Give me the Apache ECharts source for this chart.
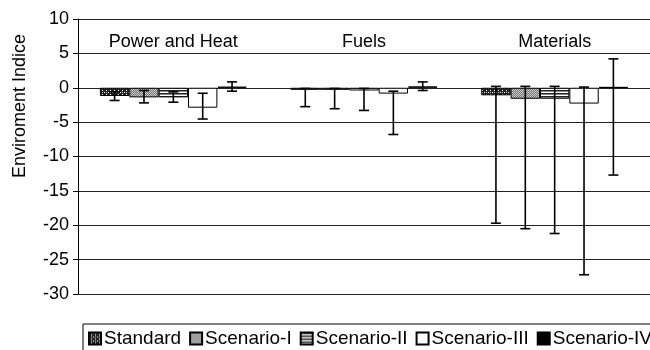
<!DOCTYPE html>
<html>
<head>
<meta charset="utf-8">
<script src="https://cdn.jsdelivr.net/npm/echarts@6/dist/echarts.min.js"></script>
<style>html,body{margin:0;padding:0;background:#fff}#c{width:650px;height:350px}</style>
</head>
<body>
<div id="c"></div>
<script>
// ---- data ----
const categories = ['Power and Heat', 'Fuels', 'Materials'];
const seriesNames = ['Standard', 'Scenario-I', 'Scenario-II', 'Scenario-III', 'Scenario-IV'];
const standardVals = [-1.2, -0.3, -1.1];
const scen1Vals = [-1.4, -0.3, -1.6];
const scen2Vals = [-1.4, -0.4, -1.6];
const scen3Vals = [-2.9, -0.85, -2.3];
const scen4Vals = [0.15, 0.2, 0.1];
const standardLow = [-1.85, -2.75, -19.7];
const standardHigh = [-0.6, -0.1, 0.2];
const scen1Low = [-2.2, -3.05, -20.5];
const scen1High = [-0.4, -0.1, 0.2];
const scen2Low = [-2.1, -3.3, -21.2];
const scen2High = [-0.6, -0.1, 0.2];
const scen3Low = [-4.55, -6.8, -27.2];
const scen3High = [-0.8, -0.5, 0.1];
const scen4Low = [-0.5, -0.4, -12.7];
const scen4High = [0.85, 0.85, 4.2];
const yTicks = [-30, -25, -20, -15, -10, -5, 0, 5, 10];
const yTitle = 'Enviroment Indice';

const values = [standardVals, scen1Vals, scen2Vals, scen3Vals, scen4Vals];
const lows = [standardLow, scen1Low, scen2Low, scen3Low, scen4Low];
const highs = [standardHigh, scen1High, scen2High, scen3High, scen4High];

// ---- patterns ----
function pat(w, h, draw) {
  const c = document.createElement('canvas');
  c.width = w; c.height = h;
  const g = c.getContext('2d');
  draw(g);
  return { image: c, repeat: 'repeat' };
}
const fills = [
  pat(4, 4, g => { g.fillStyle = '#222'; g.fillRect(0,0,4,4); g.fillStyle = '#fff'; g.fillRect(0,0,1,1); g.fillRect(2,2,1,1); g.fillStyle='#bbb'; g.fillRect(2,0,1,1); }),
  pat(2, 2, g => { g.fillStyle = '#777'; g.fillRect(0,0,2,2); g.fillStyle = '#c8c8c8'; g.fillRect(0,0,1,1); g.fillRect(1,1,1,1); }),
  pat(3, 3, g => { g.fillStyle = '#fff'; g.fillRect(0,0,3,3); g.fillStyle = '#222'; g.fillRect(0,0,3,1); g.fillStyle = '#888'; g.fillRect(0,1,3,1); }),
  '#ffffff',
  '#000000'
];

const GAP = 0.23;
const FONT = 'Liberation Sans, Arial, sans-serif';
const series = seriesNames.map((name, i) => ({
  name: name,
  type: 'bar',
  data: values[i],
  barGap: '0%',
  barCategoryGap: (GAP * 100) + '%',
  itemStyle: { color: fills[i], borderColor: '#000', borderWidth: 1 },
  z: 2
}));

const errData = [];
for (let s = 0; s < 5; s++) {
  for (let c = 0; c < categories.length; c++) {
    errData.push([c, lows[s][c], highs[s][c], s]);
  }
}
series.push({
  type: 'custom',
  name: 'err',
  data: errData,
  z: 5,
  encode: { x: 0, y: [1, 2] },
  renderItem: function (params, api) {
    const c = api.value(0), lo = api.value(1), hi = api.value(2), s = api.value(3);
    const band = api.size([1, 0])[0];
    const groupW = band * (1 - GAP);
    const bw = groupW / 5;
    const center = api.coord([c, 0])[0];
    const x = center - groupW / 2 + bw * (s + 0.5);
    const yLo = api.coord([c, lo])[1];
    const yHi = api.coord([c, hi])[1];
    const cap = 5;
    const st = { stroke: '#000', lineWidth: 1.6 };
    return {
      type: 'group',
      children: [
        { type: 'line', shape: { x1: x, y1: yLo, x2: x, y2: yHi }, style: st },
        { type: 'line', shape: { x1: x - cap, y1: yLo, x2: x + cap, y2: yLo }, style: st },
        { type: 'line', shape: { x1: x - cap, y1: yHi, x2: x + cap, y2: yHi }, style: st }
      ]
    };
  }
});

const chart = echarts.init(document.getElementById('c'), null, { renderer: 'canvas' });
chart.setOption({
  animation: false,
  backgroundColor: '#fff',
  textStyle: { fontFamily: FONT },
  grid: { left: 78, right: -10, top: 19, bottom: 56, containLabel: false },
  graphic: [{
    type: 'text',
    x: 20, y: 106,
    rotation: Math.PI / 2,
    style: { text: yTitle, fontSize: 18, fontFamily: FONT, fill: '#000', align: 'center', verticalAlign: 'middle' }
  }],
  legend: {
    data: seriesNames,
    left: 83, top: 324,
    width: 700,
    orient: 'horizontal',
    itemWidth: 12, itemHeight: 12, itemGap: 8,
    padding: [5, 30, 30, 5],
    borderColor: '#000', borderWidth: 1,
    icon: 'rect',
    textStyle: { fontSize: 19, color: '#000', fontFamily: FONT, padding: [0, 0, 0, -2] }
  },
  xAxis: {
    type: 'category',
    data: categories,
    position: 'top',
    axisLine: { show: false },
    axisTick: { show: false },
    axisLabel: { inside: true, margin: 14, fontSize: 18, color: '#000', fontFamily: FONT },
    splitLine: { show: false }
  },
  yAxis: {
    type: 'value',
    min: -30, max: 10, interval: 5,
    axisLine: { show: true, lineStyle: { color: '#000', width: 1 } },
    axisTick: { show: true, length: 5, lineStyle: { color: '#000' } },
    axisLabel: { fontSize: 18, color: '#000', margin: 9, fontFamily: FONT,
      formatter: v => yTicks.indexOf(v) >= 0 ? String(v) : '' },
    splitLine: { show: true, lineStyle: { color: '#222', width: 1 } }
  },
  series: series
});
</script>
</body>
</html>
